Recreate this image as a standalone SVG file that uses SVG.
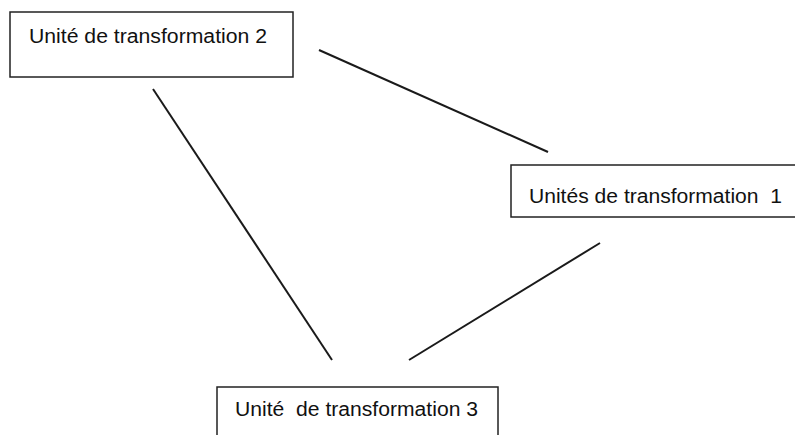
<svg xmlns="http://www.w3.org/2000/svg" width="795" height="435" viewBox="0 0 795 435">
<style>
.box{fill:#fff;stroke:#222;stroke-width:1.5}
.lbl{font-family:"Liberation Sans",Arial,sans-serif;font-size:19.5px;fill:#111;white-space:pre}
.edge{stroke:#1a1a1a;stroke-width:2;fill:none}
</style>
<rect width="795" height="435" fill="#fff"/>
<g id="connectors">
<line class="edge" x1="319" y1="50" x2="548" y2="152"/>
<line class="edge" x1="153" y1="89" x2="332" y2="360"/>
<line class="edge" x1="600" y1="243" x2="409" y2="360"/>
</g>
<g id="node2">
<rect class="box" x="10" y="12" width="283" height="65"/>
<text class="lbl" x="29" y="43" textLength="238" lengthAdjust="spacingAndGlyphs">Unité de transformation 2</text>
</g>
<g id="node1">
<rect class="box" x="511" y="165" width="300" height="52"/>
<text class="lbl" x="529" y="203" textLength="253" lengthAdjust="spacingAndGlyphs" xml:space="preserve">Unités de transformation  1</text>
</g>
<g id="node3">
<rect class="box" x="217" y="387" width="281" height="70"/>
<text class="lbl" x="235" y="416" textLength="243" lengthAdjust="spacingAndGlyphs" xml:space="preserve">Unité  de transformation 3</text>
</g>
</svg>
